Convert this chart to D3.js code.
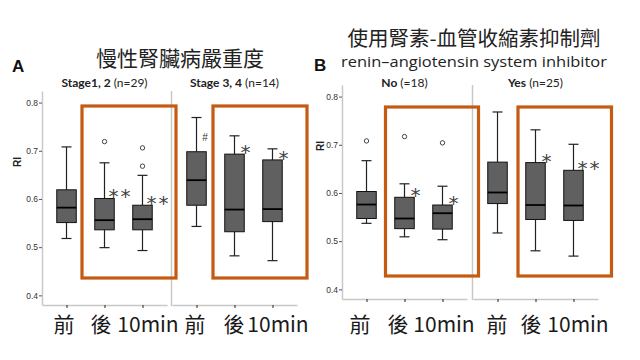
<!DOCTYPE html>
<html>
<head>
<meta charset="utf-8">
<script src="https://cdn.jsdelivr.net/npm/d3@7"></script>
<style>
  html, body { margin: 0; padding: 0; background: #fff; }
  svg { display: block; }
</style>
</head>
<body>
<svg id="chart" width="640" height="360"></svg>
<script>
// ---------- DATA ----------
const categories = ["前", "後", "10min"];
const yTicks = [0.4, 0.5, 0.6, 0.7, 0.8];

const titleA = "慢性腎臟病嚴重度";
const titleB1 = "使用腎素-血管收縮素抑制劑";
const titleB2 = "renin–angiotensin system inhibitor";

const groupNamesA = ["Stage1, 2", "Stage 3, 4"];
const groupCountsA = ["(n=29)", "(n=14)"];
const groupNamesB = ["No", "Yes"];
const groupCountsB = ["(=18)", "(n=25)"];

// each box: [lower whisker, Q1, median, Q3, upper whisker]
const statsA1 = [[0.518, 0.551, 0.582, 0.619, 0.708],
                 [0.499, 0.536, 0.556, 0.601, 0.675],
                 [0.493, 0.536, 0.558, 0.587, 0.649]];
const outliersA1 = [[], [0.719], [0.706, 0.668]];
const marksA1 = ["", "**", "**"];

const statsA2 = [[0.543, 0.587, 0.639, 0.698, 0.769],
                 [0.482, 0.532, 0.578, 0.693, 0.731],
                 [0.472, 0.553, 0.579, 0.681, 0.704]];
const outliersA2 = [[], [], []];
const marksA2 = ["#", "*", "*"];

const statsB1 = [[0.537, 0.547, 0.576, 0.603, 0.667],
                 [0.509, 0.526, 0.547, 0.591, 0.619],
                 [0.503, 0.525, 0.558, 0.575, 0.614]];
const outliersB1 = [[0.708], [0.717], [0.704]];
const marksB1 = ["", "*", "*"];

const statsB2 = [[0.517, 0.578, 0.601, 0.664, 0.768],
                 [0.480, 0.545, 0.575, 0.663, 0.731],
                 [0.469, 0.543, 0.574, 0.647, 0.701]];
const outliersB2 = [[], [], []];
const marksB2 = ["", "*", "**"];

// ---------- LAYOUT ----------
const svg = d3.select("#chart");
const CJK = "'Noto Sans CJK TC', 'Noto Sans CJK SC', sans-serif";
const ORANGE = "#c55a11";
const AXIS_GRAY = "#c8c8c8";
const BOX_FILL = "#606060";

const panels = [
  {
    yRange: [305, 91], yAxisX: 42,
    subs: [
      {range: [42, 167], name: groupNamesA[0], n: groupCountsA[0], stats: statsA1, outliers: outliersA1, marks: marksA1, labelDx: [-3, -4, 5]},
      {range: [172, 297], name: groupNamesA[1], n: groupCountsA[1], stats: statsA2, outliers: outliersA2, marks: marksA2, labelDx: [-2, -1, 5]}
    ],
    frames: [[82, 106, 176, 278], [213, 106, 307, 278]],
    riPos: [17, 162]
  },
  {
    yRange: [299, 85], yAxisX: 342,
    subs: [
      {range: [342, 467], name: groupNamesB[0], n: groupCountsB[0], stats: statsB1, outliers: outliersB1, marks: marksB1, labelDx: [-7, -7, 1]},
      {range: [473, 598], name: groupNamesB[1], n: groupCountsB[1], stats: statsB2, outliers: outliersB2, marks: marksB2, labelDx: [-1, -5, 4]}
    ],
    frames: [[385.5, 107, 478.5, 276], [518, 107, 611.5, 276]],
    riPos: [320, 146]
  }
];

const BOX_W = 19.5, CAP_W = 10;

panels.forEach((p) => {
  const y = d3.scaleLinear().domain([0.38, 0.824]).range(p.yRange);
  const g = svg.append("g");

  // y axis
  const yAxis = g.append("g")
    .attr("transform", `translate(${p.yAxisX},0)`)
    .call(d3.axisLeft(y).tickValues(yTicks).tickSize(3).tickSizeOuter(0).tickPadding(1).tickFormat(d3.format(".1f")));
  yAxis.select(".domain").attr("stroke", AXIS_GRAY).attr("stroke-width", 1.5);
  yAxis.selectAll(".tick line").attr("stroke", "#555");
  yAxis.selectAll(".tick text").attr("font-family", "Arial, 'Liberation Sans', sans-serif")
    .attr("font-size", 8.5).attr("fill", "#333");

  // RI label
  g.append("text")
    .attr("transform", `translate(${p.riPos[0]},${p.riPos[1]}) rotate(-90)`)
    .attr("text-anchor", "middle").attr("dominant-baseline", "central")
    .attr("font-family", "Arial, 'Liberation Sans', sans-serif")
    .attr("font-weight", "bold").attr("font-size", 10).attr("fill", "#222")
    .text("RI");

  p.subs.forEach((s, si) => {
    const x = d3.scalePoint().domain(categories).range(s.range).padding(0.645);
    const base = p.yRange[0];

    // separator between sub panels
    if (si === 1) {
      g.append("line")
        .attr("x1", s.range[0] - 0.5).attr("x2", s.range[0] - 0.5)
        .attr("y1", p.yRange[1]).attr("y2", base + 1)
        .attr("stroke", AXIS_GRAY).attr("stroke-width", 1.5);
    }

    // x axis
    const xAxis = g.append("g")
      .attr("transform", `translate(0,${base})`)
      .call(d3.axisBottom(x).tickSize(3).tickSizeOuter(0));
    xAxis.select(".domain").attr("stroke", AXIS_GRAY).attr("stroke-width", 1.5);
    xAxis.selectAll(".tick line").attr("stroke", "#222");
    xAxis.selectAll(".tick text")
      .attr("font-family", CJK).attr("font-size", 21).attr("fill", "#1a1a1a")
      .attr("y", 322.5 - base).attr("dy", null)
      .attr("dx", (d, i) => s.labelDx[i])
      .attr("dominant-baseline", "central");

    // group subtitle
    const t = g.append("text")
      .attr("x", (s.range[0] + s.range[1]) / 2).attr("y", 87)
      .attr("text-anchor", "middle")
      .attr("font-family", "Lato, 'Open Sans', sans-serif")
      .attr("font-size", 12).attr("fill", "#222");
    t.append("tspan").attr("font-weight", "bold").text(s.name);
    t.append("tspan").text(" " + s.n);

    // boxes
    s.stats.forEach((st, i) => {
      const cx = x(categories[i]);
      const [lo, q1, med, q3, hi] = st;
      const bg = g.append("g");
      // whiskers
      bg.append("line").attr("x1", cx).attr("x2", cx).attr("y1", y(q3)).attr("y2", y(hi))
        .attr("stroke", "#222").attr("stroke-width", 1.2);
      bg.append("line").attr("x1", cx).attr("x2", cx).attr("y1", y(q1)).attr("y2", y(lo))
        .attr("stroke", "#222").attr("stroke-width", 1.2);
      bg.append("line").attr("x1", cx - CAP_W / 2).attr("x2", cx + CAP_W / 2).attr("y1", y(hi)).attr("y2", y(hi))
        .attr("stroke", "#222").attr("stroke-width", 1.2);
      bg.append("line").attr("x1", cx - CAP_W / 2).attr("x2", cx + CAP_W / 2).attr("y1", y(lo)).attr("y2", y(lo))
        .attr("stroke", "#222").attr("stroke-width", 1.2);
      // box
      bg.append("rect")
        .attr("x", cx - BOX_W / 2).attr("y", y(q3))
        .attr("width", BOX_W).attr("height", y(q1) - y(q3))
        .attr("fill", BOX_FILL).attr("stroke", "#111").attr("stroke-width", 1);
      // median
      bg.append("line").attr("x1", cx - BOX_W / 2).attr("x2", cx + BOX_W / 2)
        .attr("y1", y(med)).attr("y2", y(med))
        .attr("stroke", "#000").attr("stroke-width", 1.8);
      // outliers
      s.outliers[i].forEach(o => {
        bg.append("circle").attr("cx", cx).attr("cy", y(o)).attr("r", 2.2)
          .attr("fill", "#fff").attr("stroke", "#444").attr("stroke-width", 1);
      });
      // significance marks
      const m = s.marks[i];
      if (m === "#") {
        bg.append("text").attr("x", cx + 8.5).attr("y", y(q3) - 14)
          .attr("text-anchor", "middle").attr("dominant-baseline", "central")
          .attr("font-family", "Arial, 'Liberation Sans', sans-serif")
          .attr("font-size", 10).attr("fill", "#333").text(m);
      } else if (m) {
        bg.append("text")
          .attr("x", m.length === 1 ? cx + 12 : cx + 4)
          .attr("y", y(q3) + 5)
          .attr("text-anchor", m.length === 1 ? "middle" : "start")
          .attr("letter-spacing", 2)
          .attr("font-family", "'DejaVu Sans', sans-serif")
          .attr("font-size", 20).attr("fill", "#444").text(m);
      }
    });
  });

  // orange highlight frames
  p.frames.forEach(f => {
    g.append("rect")
      .attr("x", f[0]).attr("y", f[1])
      .attr("width", f[2] - f[0]).attr("height", f[3] - f[1])
      .attr("fill", "none").attr("stroke", ORANGE).attr("stroke-width", 3.2);
  });
});

// ---------- TITLES ----------
svg.append("text").attr("x", 12).attr("y", 72)
  .attr("font-family", "Arial, 'Liberation Sans', sans-serif")
  .attr("font-weight", "bold").attr("font-size", 17).attr("fill", "#111").text("A");
svg.append("text").attr("x", 314).attr("y", 71)
  .attr("font-family", "Arial, 'Liberation Sans', sans-serif")
  .attr("font-weight", "bold").attr("font-size", 17).attr("fill", "#111").text("B");

svg.append("text").attr("x", 180).attr("y", 57)
  .attr("text-anchor", "middle").attr("dominant-baseline", "central")
  .attr("font-family", CJK).attr("font-size", 21).attr("fill", "#222").text(titleA);

svg.append("text").attr("x", 474).attr("y", 37)
  .attr("text-anchor", "middle").attr("dominant-baseline", "central")
  .attr("font-family", CJK).attr("font-size", 20.5).attr("fill", "#222").text(titleB1);

svg.append("text").attr("x", 341).attr("y", 67)
  .attr("font-family", "'Open Sans', sans-serif")
  .attr("font-size", 15).attr("fill", "#222")
  .attr("textLength", 266).attr("lengthAdjust", "spacingAndGlyphs")
  .text(titleB2);
</script>
</body>
</html>
